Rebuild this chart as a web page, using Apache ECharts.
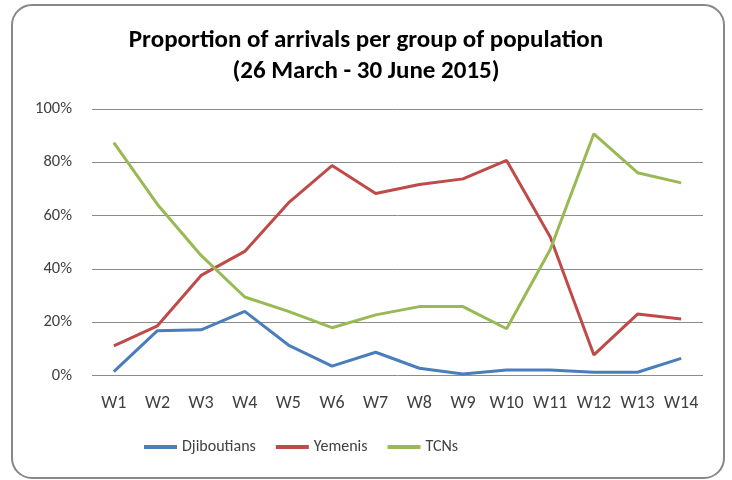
<!DOCTYPE html>
<html><head><meta charset="utf-8">
<script src="https://cdn.jsdelivr.net/npm/echarts@6/dist/echarts.min.js"></script>
<style>html,body{margin:0;padding:0;background:#fff}#c{width:732px;height:480px}</style>
</head><body><div id="c"></div>
<script>
const categories = ['W1','W2','W3','W4','W5','W6','W7','W8','W9','W10','W11','W12','W13','W14'];
const djiboutians = [1.5,16.9,17.2,24.1,11.5,3.6,8.8,2.8,0.6,2.1,2.1,1.3,1.3,6.5];
const yemenis = [11.2,18.7,37.6,46.6,64.8,78.8,68.3,71.7,73.8,80.7,52.0,7.8,23.1,21.3];
const tcns = [87.4,64.2,45.1,29.5,24.1,18.0,22.8,25.9,25.9,17.6,47.3,90.7,76.1,72.3];
const yTicks = [0,20,40,60,80,100];

const FONT = 'Carlito, Lato, "Open Sans", sans-serif';
const chart = echarts.init(document.getElementById('c'), null, {renderer:'canvas'});
function mk(name, data, color){
  return {name, type:'line', data, showSymbol:false, symbol:'none',
    lineStyle:{color, width:3}, itemStyle:{color}, animation:false};
}
chart.setOption({
  animation:false,
  graphic:[{type:'rect', shape:{x:12,y:5,width:712,height:473,r:20},
    style:{fill:'none', stroke:'#878787', lineWidth:2}, silent:true}],
  title:{text:'Proportion of arrivals per group of population\n(26 March - 30 June 2015)',
    left:'center', top:20,
    textStyle:{fontFamily:FONT, fontSize:25, fontWeight:'bold', color:'#000', lineHeight:31}},
  grid:{left:92, right:29, top:109, bottom:104.3, containLabel:false},
  xAxis:{type:'category', data:categories, boundaryGap:true,
    axisLine:{show:false}, axisTick:{show:false},
    axisLabel:{fontFamily:FONT, fontSize:18, color:'#404040', margin:19, interval:0}},
  yAxis:{type:'value', min:0, max:100, interval:20,
    axisLine:{show:false}, axisTick:{show:false},
    splitLine:{lineStyle:{color:'#8c8c8c', width:1}},
    axisLabel:{fontFamily:FONT, fontSize:16.5, color:'#404040', margin:20,
      formatter:v=>yTicks.includes(v)? v+'%':''}},
  legend:{bottom:20, left:139, icon:'rect', itemWidth:33, itemHeight:4, itemGap:20,
    textStyle:{fontFamily:FONT, fontSize:16, color:'#404040'},
    data:['Djiboutians','Yemenis','TCNs']},
  series:[mk('Djiboutians', djiboutians, '#4A7EBB'), mk('Yemenis', yemenis, '#BE4B48'), mk('TCNs', tcns, '#98B954')]
});
</script></body></html>
